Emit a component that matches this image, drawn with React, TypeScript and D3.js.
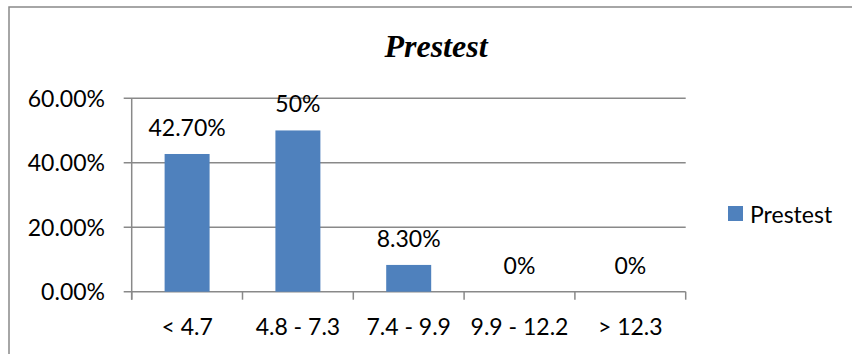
import React from "react";
import * as d3 from "d3";

const categories = ["< 4.7", "4.8 - 7.3", "7.4 - 9.9", "9.9 - 12.2", "> 12.3"];
const values = [42.7, 50, 8.3, 0, 0];
const valueLabels = ["42.70%", "50%", "8.30%", "0%", "0%"];
const yTicks = [0, 20, 40, 60];
const seriesName = "Prestest";
const title = "Prestest";

const W = 852;
const H = 354;
const plot = { left: 131.7, right: 685.7, top: 98.2, bottom: 291.7 };
const font = "Lato, 'Open Sans', sans-serif";
const fs = 23;
const gridColor = "#898989";
const barColor = "#4F81BD";

export default function App() {
  const x = d3.scaleBand<string>().domain(categories).range([plot.left, plot.right]).paddingInner(0.594).paddingOuter(0.297);
  const band = d3.scaleBand<string>().domain(categories).range([plot.left, plot.right]);
  const y = d3.scaleLinear().domain([0, 60]).range([plot.bottom, plot.top]);
  const tickXs = [...categories.map((c) => band(c) as number), plot.right];

  return (
    <svg width={W} height={H} style={{ position: "absolute", left: 0, top: 0 }} fontFamily={font}>
      <rect x={0} y={0} width={W} height={H} fill="#fff" />
      <rect x={9} y={7} width={W + 50} height={H + 50} fill="none" stroke={gridColor} strokeWidth={1.5} />
      <text x={436} y={57} textAnchor="middle" fontFamily="'Liberation Serif', 'Times New Roman', serif" fontWeight="bold" fontStyle="italic" fontSize={32} fill="#000">
        {title}
      </text>
      {yTicks.map((t) => (
        <g key={t}>
          <line x1={plot.left - 8} x2={plot.right} y1={y(t)} y2={y(t)} stroke={gridColor} strokeWidth={1.5} />
          <text x={105} y={y(t) + 8.5} textAnchor="end" fontSize={fs} fill="#000">
            {t.toFixed(2) + "%"}
          </text>
        </g>
      ))}
      <line x1={plot.left} x2={plot.left} y1={plot.top} y2={plot.bottom + 8} stroke={gridColor} strokeWidth={1.5} />
      {tickXs.map((tx, i) => (
        <line key={i} x1={tx} x2={tx} y1={plot.bottom} y2={plot.bottom + 8} stroke={gridColor} strokeWidth={1.5} />
      ))}
      {categories.map((c, i) => {
        const bx = x(c) as number;
        const bw = x.bandwidth();
        const cx = bx + bw / 2;
        return (
          <g key={c}>
            {values[i] > 0 && (
              <rect x={bx} y={y(values[i])} width={bw} height={plot.bottom - y(values[i])} fill={barColor} />
            )}
            <text x={cx} y={y(values[i]) - 18} textAnchor="middle" fontSize={fs} fill="#000">
              {valueLabels[i]}
            </text>
            <text x={cx} y={335} textAnchor="middle" fontSize={fs} fill="#000">
              {c}
            </text>
          </g>
        );
      })}
      <rect x={728} y={206} width={15} height={15} fill={barColor} />
      <text x={750} y={222.5} fontSize={fs} fill="#000">
        {seriesName}
      </text>
    </svg>
  );
}
